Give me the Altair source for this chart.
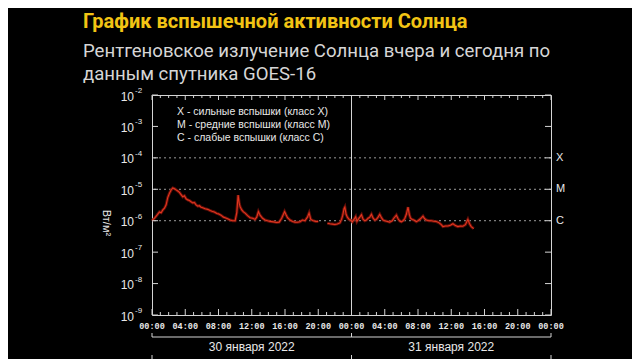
import altair as alt
import pandas as pd

title_text = "График вспышечной активности Солнца"
subtitle_lines = ["Рентгеновское излучение Солнца вчера и сегодня по", "данным спутника GOES-16"]
legend_lines = ["X - сильные вспышки  (класс X)", "M - средние вспышки  (класс M)", "C  - слабые вспышки  (класс C)"]
y_title = "Вт/м²"

decade_exponents = [-9, -8, -7, -6, -5, -4, -3, -2]
class_letters = ["X", "M", "C"]
class_thresholds = [1e-4, 1e-5, 1e-6]
major_hours = [0, 4, 8, 12, 16, 20, 24, 28, 32, 36, 40, 44, 48]
major_labels = ["00:00", "04:00", "08:00", "12:00", "16:00", "20:00", "00:00",
                "04:00", "08:00", "12:00", "16:00", "20:00", "00:00"]
minor_hours = [h for h in range(49) if h % 4 != 0]
day_labels = ["30 января 2022", "31 января 2022"]
day_mid_hours = [12, 36]
day_bounds = [0, 24, 48]

seg1_hours = [0.0, 0.3, 0.6, 0.9, 1.1, 1.3, 1.5, 1.7, 1.9, 2.1, 2.3, 2.5, 2.7, 2.9, 3.1, 3.3, 3.5,
              3.7, 3.9, 4.1, 4.3, 4.5, 4.7, 4.9, 5.1, 5.3, 5.5, 5.7, 5.9, 6.1, 6.4, 6.7, 7.0, 7.2,
              7.5, 7.8, 8.0, 8.3, 8.6, 8.8, 9.1, 9.4, 9.7, 10.0, 10.2, 10.36, 10.5, 10.6, 10.8,
              11.0, 11.2, 11.5, 11.8, 12.1, 12.4, 12.6, 12.8, 13.0, 13.3, 13.6, 13.9, 14.2, 14.6,
              15.0, 15.3, 15.6, 15.95, 16.1, 16.3, 16.6, 16.9, 17.2, 17.5, 17.8, 18.1, 18.4,
              18.7, 18.9, 19.1, 19.4, 19.7, 20.0]
seg1_flux = [1.0e-6, 1.2e-6, 1.5e-6, 1.9e-6, 1.8e-6, 2.2e-6, 2.5e-6, 3.2e-6, 5.5e-6, 7.5e-6,
             9.5e-6, 1.1e-5, 1.05e-5, 9.6e-6, 8.8e-6, 8.0e-6, 6.8e-6, 5.8e-6, 6.2e-6, 5.0e-6,
             4.6e-6, 4.4e-6, 4.0e-6, 3.7e-6, 3.8e-6, 3.2e-6, 2.9e-6, 3.0e-6, 2.7e-6, 2.6e-6,
             2.4e-6, 2.3e-6, 2.1e-6, 2.0e-6, 1.9e-6, 1.7e-6, 1.65e-6, 1.5e-6, 1.3e-6, 1.25e-6,
             1.15e-6, 1.05e-6, 1.0e-6, 1.0e-6, 1.8e-6, 6.5e-6, 3.5e-6, 2.8e-6, 2.2e-6, 1.9e-6,
             1.75e-6, 1.45e-6, 1.25e-6, 1.2e-6, 1.1e-6, 1.3e-6, 1.95e-6, 1.5e-6, 1.2e-6, 1.05e-6,
             1.0e-6, 9.5e-7, 9.2e-7, 8.8e-7, 9.0e-7, 1.2e-6, 1.95e-6, 1.6e-6, 1.25e-6, 1.05e-6,
             9.5e-7, 9.0e-7, 8.9e-7, 9.2e-7, 1.05e-6, 1.0e-6, 1.3e-6, 1.75e-6, 1.1e-6, 1.0e-6,
             9.4e-7, 9.5e-7]
seg2_hours = [21.1, 21.4, 21.7, 22.0, 22.3, 22.6, 22.8, 22.95, 23.1, 23.2, 23.35, 23.5, 23.7,
              23.9, 24.1, 24.3, 24.5, 24.65, 24.8, 25.0, 25.2, 25.4, 25.6, 25.8, 26.0, 26.2,
              26.4, 26.6, 26.8, 27.0, 27.2, 27.4, 27.6, 27.8, 28.0, 28.3, 28.6, 28.9, 29.1,
              29.4, 29.6, 29.8, 30.0, 30.2, 30.4, 30.6, 30.8, 30.95, 31.1, 31.3, 31.5, 31.8,
              32.0, 32.3, 32.6, 32.8, 33.0, 33.3, 33.6, 33.9, 34.2, 34.5, 34.8, 35.0, 35.3,
              35.6, 35.9, 36.2, 36.5, 36.8, 37.1, 37.4, 37.7, 38.0, 38.2, 38.4, 38.7]
seg2_flux = [8.3e-7, 8.0e-7, 7.8e-7, 7.6e-7, 7.9e-7, 8.5e-7, 1.1e-6, 1.5e-6, 2.4e-6, 2.7e-6,
             1.6e-6, 1.3e-6, 1.1e-6, 1.05e-6, 9.2e-7, 1.1e-6, 1.35e-6, 9.5e-7, 1.1e-6, 1.3e-6,
             1.55e-6, 1.1e-6, 1.0e-6, 1.05e-6, 1.2e-6, 1.3e-6, 1.6e-6, 1.2e-6, 1.05e-6, 1.1e-6,
             1.3e-6, 1.6e-6, 1.25e-6, 1.05e-6, 1.0e-6, 9.5e-7, 9.0e-7, 1.0e-6, 1.2e-6, 1.5e-6,
             1.15e-6, 9.8e-7, 9.2e-7, 1.0e-6, 1.15e-6, 1.6e-6, 2.7e-6, 1.6e-6, 1.2e-6, 1.1e-6,
             1.05e-6, 9.3e-7, 1.0e-6, 1.15e-6, 1.4e-6, 1.15e-6, 1.05e-6, 1.0e-6, 1.0e-6, 9.6e-7,
             9.4e-7, 8.7e-7, 7.5e-7, 6.5e-7, 6.8e-7, 6.8e-7, 7.2e-7, 8.0e-7, 7.0e-7, 6.5e-7,
             6.8e-7, 6.7e-7, 7.5e-7, 1.1e-6, 8.0e-7, 6.5e-7, 5.6e-7]

W, H = 399, 220
FG = "#d4d4d4"
TXT = "#e8e8e8"

flux_df = pd.DataFrame({
    "hour": seg1_hours + seg2_hours,
    "flux": seg1_flux + seg2_flux,
    "seg": [1] * len(seg1_hours) + [2] * len(seg2_hours),
})
cls_df = pd.DataFrame({"flux": class_thresholds, "cls": class_letters})
dec_df = pd.DataFrame({"v": [10.0 ** e for e in decade_exponents],
                       "e": [str(e) for e in decade_exponents]})
major_df = pd.DataFrame({"h": major_hours, "lab": major_labels})
minor_df = pd.DataFrame({"h": minor_hours})
day_df = pd.DataFrame({"h": day_mid_hours, "lab": day_labels})
bound_df = pd.DataFrame({"h": day_bounds})

xs = alt.Scale(domain=[0, 48], nice=False, zero=False)
ys = alt.Scale(type="log", domain=[1e-9, 1e-2], nice=False)


def X(f):
    return alt.X(f, scale=xs, axis=None)


def Y(f):
    return alt.Y(f, scale=ys, axis=None)


dotted = alt.Chart(cls_df).mark_rule(color="#9c9c9c", strokeDash=[2, 3], strokeWidth=1).encode(y=Y("flux:Q"))
midnight = alt.Chart(bound_df[bound_df.h == 24]).mark_rule(color=FG, strokeWidth=1).encode(x=X("h:Q"))

glow = alt.Chart(flux_df).mark_line(color="#7a120a", strokeWidth=3.0, opacity=0.8).encode(
    x=X("hour:Q"), y=Y("flux:Q"), detail="seg:N")
line = alt.Chart(flux_df).mark_line(color="#e0361f", strokeWidth=1.1).encode(
    x=X("hour:Q"), y=Y("flux:Q"), detail="seg:N")

tick_bot_major = alt.Chart(major_df).mark_rule(color=FG).encode(x=X("h:Q"), y=alt.value(H), y2=alt.value(H - 6))
tick_bot_minor = alt.Chart(minor_df).mark_rule(color=FG).encode(x=X("h:Q"), y=alt.value(H), y2=alt.value(H - 3))
tick_top_major = alt.Chart(major_df).mark_rule(color=FG).encode(x=X("h:Q"), y=alt.value(0), y2=alt.value(5))
tick_top_minor = alt.Chart(minor_df).mark_rule(color=FG).encode(x=X("h:Q"), y=alt.value(0), y2=alt.value(3))
tick_left = alt.Chart(dec_df).mark_rule(color=FG).encode(y=Y("v:Q"), x=alt.value(0), x2=alt.value(6))
tick_right = alt.Chart(dec_df).mark_rule(color=FG).encode(y=Y("v:Q"), x=alt.value(W - 6), x2=alt.value(W))

ten = alt.Chart(dec_df).mark_text(align="right", baseline="middle", dy=1.5, fontSize=12,
                                  font="Liberation Sans", color=TXT).encode(
    y=Y("v:Q"), x=alt.value(-18), text=alt.value("10"))
expo = alt.Chart(dec_df).mark_text(align="left", baseline="middle", dy=-4, fontSize=8,
                                   font="Liberation Sans", color=TXT).encode(
    y=Y("v:Q"), x=alt.value(-17), text="e:N")
xlab = alt.Chart(major_df).mark_text(baseline="middle", fontSize=8.5, font="Liberation Mono",
                                     fontWeight="bold", color=TXT).encode(
    x=X("h:Q"), y=alt.value(H + 11), text="lab:N")
clslab = alt.Chart(cls_df).mark_text(align="left", baseline="middle", fontSize=11,
                                     font="Liberation Sans", color=TXT).encode(
    y=Y("flux:Q"), x=alt.value(W + 5), text="cls:N")

bracket = alt.Chart(alt.Data(values=[{"a": 0, "b": 48}])).mark_rule(color=FG).encode(
    x=X("a:Q"), x2="b:Q", y=alt.value(242))
bracket_ticks = alt.Chart(bound_df).mark_rule(color=FG).encode(x=X("h:Q"), y=alt.value(238), y2=alt.value(242))
lower_ticks = alt.Chart(bound_df).mark_rule(color=FG).encode(x=X("h:Q"), y=alt.value(260), y2=alt.value(266))
daylab = alt.Chart(day_df).mark_text(baseline="middle", fontSize=12, font="Liberation Sans", color=TXT).encode(
    x=X("h:Q"), y=alt.value(252), text="lab:N")

legend = alt.Chart(alt.Data(values=[{"t": "\n".join(legend_lines)}])).mark_text(
    align="left", baseline="middle", lineBreak="\n", lineHeight=12.8, fontSize=10.5,
    font="Liberation Sans", color=TXT).encode(x=alt.value(25), y=alt.value(17), text="t:N")

ytitle = alt.Chart(alt.Data(values=[{"t": y_title}])).mark_text(
    align="center", baseline="middle", angle=90, fontSize=11, font="Liberation Sans", color=TXT).encode(
    x=alt.value(-46), y=alt.value(128), text="t:N")

title = alt.Chart(alt.Data(values=[{"t": title_text}])).mark_text(
    align="left", baseline="alphabetic", fontSize=20, fontWeight="bold", font="Roboto",
    color="#f2c414").encode(x=alt.value(-69), y=alt.value(-67), text="t:N")
subtitle = alt.Chart(alt.Data(values=[{"t": "\n".join(subtitle_lines)}])).mark_text(
    align="left", baseline="alphabetic", lineBreak="\n", lineHeight=23, fontSize=18.6, font="Roboto",
    color="#d6d6d6").encode(x=alt.value(-69), y=alt.value(-38), text="t:N")

chart = alt.layer(
    dotted, midnight, glow, line,
    tick_bot_major, tick_bot_minor, tick_top_major, tick_top_minor, tick_left, tick_right,
    ten, expo, xlab, clslab, bracket, bracket_ticks, lower_ticks, daylab, legend, ytitle,
    title, subtitle,
).properties(
    width=W, height=H,
    autosize=alt.AutoSizeParams(type="none"),
    padding={"left": 144, "top": 87, "right": 81, "bottom": 44},
    background="#000000",
).configure_view(stroke=FG, strokeWidth=1)

chart.save("out.html", embed_options={"renderer": "svg", "actions": False})
